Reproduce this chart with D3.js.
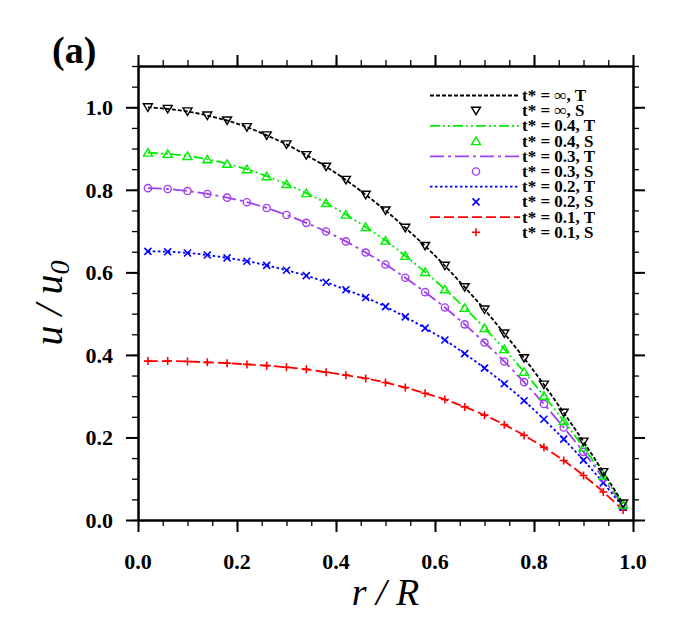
<!DOCTYPE html>
<html>
<head>
<meta charset="utf-8">
<script src="https://cdn.jsdelivr.net/npm/d3@7"></script>
<style>
  html, body { margin: 0; padding: 0; background: #fff; }
  svg { display: block; }
</style>
</head>
<body>
<div id="chart"></div>
<script>
// ---- data ----
const rValues = [0.02,0.06,0.10,0.14,0.18,0.22,0.26,0.30,0.34,0.38,0.42,0.46,0.50,
                 0.54,0.58,0.62,0.66,0.70,0.74,0.78,0.82,0.86,0.90,0.94,0.98];
const uInf = [1.000,0.996,0.990,0.980,0.968,0.952,0.932,0.910,0.884,0.856,0.824,0.788,0.750,
              0.708,0.664,0.616,0.564,0.510,0.452,0.392,0.328,0.260,0.190,0.116,0.040];
const u04  = [0.890,0.887,0.882,0.874,0.863,0.850,0.833,0.814,0.792,0.768,0.740,0.710,0.677,
              0.640,0.601,0.559,0.514,0.465,0.414,0.359,0.301,0.240,0.176,0.108,0.037];
const u03  = [0.804,0.802,0.797,0.790,0.781,0.770,0.756,0.739,0.720,0.699,0.675,0.648,0.619,
              0.587,0.552,0.515,0.474,0.430,0.384,0.334,0.281,0.224,0.165,0.101,0.035];
const u02  = [0.651,0.650,0.647,0.642,0.635,0.627,0.617,0.605,0.592,0.576,0.558,0.539,0.517,
              0.492,0.465,0.436,0.403,0.368,0.330,0.289,0.244,0.196,0.145,0.090,0.031];
const u01  = [0.385,0.385,0.384,0.382,0.380,0.377,0.374,0.370,0.365,0.358,0.351,0.343,0.333,
              0.321,0.307,0.292,0.274,0.254,0.231,0.205,0.176,0.144,0.108,0.068,0.024];
const seriesLabels = ["\u221E", "0.4", "0.3", "0.2", "0.1"];
const xTicks = [0.0,0.2,0.4,0.6,0.8,1.0];
const yTicks = [0.0,0.2,0.4,0.6,0.8,1.0];

// ---- styles ----
const styles = [
  {vals: uInf, color: "#000000", dash: "4,2",            marker: "tridown"},
  {vals: u04,  color: "#00ee00", dash: "10,3,2,3,2,3",   marker: "triup"},
  {vals: u03,  color: "#a040f0", dash: "14,4,3,4",       marker: "circle"},
  {vals: u02,  color: "#0000ff", dash: "2.5,2.5",        marker: "cross"},
  {vals: u01,  color: "#ff0000", dash: "10,4",           marker: "plus"}
];

const W = 674, H = 624;
const L = 138, R = 633, T = 66, B = 520;
const svg = d3.select("#chart").append("svg").attr("width", W).attr("height", H);

const x = d3.scaleLinear().domain([0, 1]).range([L, R]);
const y = d3.scaleLinear().domain([0, 1.1]).range([B, T]);

const serif = "'Liberation Serif', 'Times New Roman', serif";
const minorX = d3.range(0, 21).map(i => i * 0.05);
const minorY = d3.range(0, 23).map(i => i * 0.05);

function styleAxis(g, w) {
  g.selectAll("path.domain").attr("stroke", "#000").attr("stroke-width", 2);
  g.selectAll(".tick line").attr("stroke", "#000").attr("stroke-width", w);
  g.selectAll(".tick text").remove();
}
// minor ticks
svg.append("g").attr("transform", `translate(0,${B})`)
  .call(d3.axisBottom(x).tickValues(minorX).tickSize(6).tickSizeOuter(0).tickFormat(""))
  .call(g => styleAxis(g, 1.3));
svg.append("g").attr("transform", `translate(0,${T})`)
  .call(d3.axisTop(x).tickValues(minorX).tickSize(6).tickSizeOuter(0).tickFormat(""))
  .call(g => styleAxis(g, 1.3));
svg.append("g").attr("transform", `translate(${L},0)`)
  .call(d3.axisLeft(y).tickValues(minorY).tickSize(6).tickSizeOuter(0).tickFormat(""))
  .call(g => styleAxis(g, 1.3));
svg.append("g").attr("transform", `translate(${R},0)`)
  .call(d3.axisRight(y).tickValues(minorY).tickSize(6).tickSizeOuter(0).tickFormat(""))
  .call(g => styleAxis(g, 1.3));
// major ticks
svg.append("g").attr("transform", `translate(0,${B})`)
  .call(d3.axisBottom(x).tickValues(xTicks).tickSize(12).tickSizeOuter(0).tickFormat(""))
  .call(g => styleAxis(g, 2));
svg.append("g").attr("transform", `translate(0,${T})`)
  .call(d3.axisTop(x).tickValues(xTicks).tickSize(11).tickSizeOuter(0).tickFormat(""))
  .call(g => styleAxis(g, 2));
svg.append("g").attr("transform", `translate(${L},0)`)
  .call(d3.axisLeft(y).tickValues(yTicks).tickSize(12).tickSizeOuter(0).tickFormat(""))
  .call(g => styleAxis(g, 2));
svg.append("g").attr("transform", `translate(${R},0)`)
  .call(d3.axisRight(y).tickValues(yTicks).tickSize(12).tickSizeOuter(0).tickFormat(""))
  .call(g => styleAxis(g, 2));

// tick labels
const fmt = d3.format(".1f");
svg.append("g").selectAll("text").data(xTicks).join("text")
  .attr("x", d => x(d)).attr("y", 569)
  .attr("text-anchor", "middle")
  .attr("font-family", serif).attr("font-weight", "bold").attr("font-size", 22)
  .text(d => fmt(d));
svg.append("g").selectAll("text").data(yTicks).join("text")
  .attr("x", 113).attr("y", d => y(d)).attr("dy", "0.35em")
  .attr("text-anchor", "end")
  .attr("font-family", serif).attr("font-weight", "bold").attr("font-size", 22)
  .text(d => fmt(d));

// axis titles
const xt = svg.append("text").attr("x", (L + R) / 2).attr("y", 605)
  .attr("text-anchor", "middle").attr("font-family", serif)
  .attr("font-style", "italic").attr("font-size", 38);
xt.append("tspan").text("r / R");

const yt = svg.append("text").attr("transform", `translate(62,${(T + B) / 2 + 10}) rotate(-90)`)
  .attr("text-anchor", "middle").attr("font-family", serif)
  .attr("font-style", "italic").attr("font-size", 40);
yt.append("tspan").text("u / u");
yt.append("tspan").attr("font-size", 28).attr("dy", 7).text("0");

svg.append("text").attr("x", 52).attr("y", 63)
  .attr("font-family", serif).attr("font-weight", "bold").attr("font-size", 38)
  .text("(a)");

// markers
function drawMarker(g, type, cx, cy, color) {
  if (type === "tridown") {
    g.append("path").attr("d", `M${cx-4.5},${cy-3.5}L${cx+4.5},${cy-3.5}L${cx},${cy+4}Z`)
      .attr("fill", "none").attr("stroke", color).attr("stroke-width", 1.4);
  } else if (type === "triup") {
    g.append("path").attr("d", `M${cx-4.5},${cy+3.5}L${cx+4.5},${cy+3.5}L${cx},${cy-4}Z`)
      .attr("fill", "none").attr("stroke", color).attr("stroke-width", 1.4);
  } else if (type === "circle") {
    g.append("circle").attr("cx", cx).attr("cy", cy).attr("r", 3.6)
      .attr("fill", "none").attr("stroke", color).attr("stroke-width", 1.4);
  } else if (type === "cross") {
    g.append("path").attr("d", `M${cx-3.5},${cy-3.5}L${cx+3.5},${cy+3.5}M${cx-3.5},${cy+3.5}L${cx+3.5},${cy-3.5}`)
      .attr("stroke", color).attr("stroke-width", 1.6);
  } else if (type === "plus") {
    g.append("path").attr("d", `M${cx-4},${cy}L${cx+4},${cy}M${cx},${cy-4}L${cx},${cy+4}`)
      .attr("stroke", color).attr("stroke-width", 1.6);
  }
}

const line = d3.line().x((d, i) => x(rValues[i])).y(d => y(d)).curve(d3.curveCatmullRom);
const plot = svg.append("g");
styles.slice().reverse().forEach(s => {
  plot.append("path").attr("d", line(s.vals))
    .attr("fill", "none").attr("stroke", s.color).attr("stroke-width", 1.8)
    .attr("stroke-dasharray", s.dash);
  const mg = plot.append("g");
  s.vals.forEach((v, i) => drawMarker(mg, s.marker, x(rValues[i]), y(v), s.color));
});

// legend
const lg = svg.append("g");
const rowH = 15.2, row0 = 95.5;
styles.forEach((s, k) => {
  const yT = row0 + (2 * k) * rowH;
  const yS = row0 + (2 * k + 1) * rowH;
  lg.append("line").attr("x1", 430).attr("x2", 520).attr("y1", yT).attr("y2", yT)
    .attr("stroke", s.color).attr("stroke-width", 1.8).attr("stroke-dasharray", s.dash);
  drawMarker(lg, s.marker, 476, yS, s.color);
  [[yT, "T"], [yS, "S"]].forEach(([yy, suf]) => {
    lg.append("text").attr("x", 522).attr("y", yy + 5.5)
      .attr("font-family", serif).attr("font-weight", "bold").attr("font-size", 17)
      .text(`t* = ${seriesLabels[k]}, ${suf}`);
  });
});
</script>
</body>
</html>
